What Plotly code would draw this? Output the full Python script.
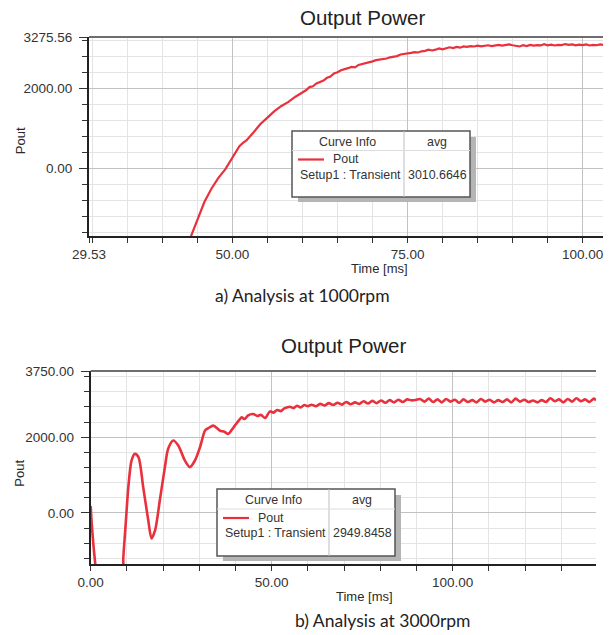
import plotly.graph_objects as go

# ---------------- data ----------------
time_a = [44.0, 45.0, 46.0, 47.0, 48.0, 49.0, 50.0, 51.0, 51.5, 52.0, 53.0, 54.0, 55.0, 56.0, 57.0,
          58.0, 59.0, 60.0, 60.5, 61.0, 61.5, 62.0, 62.5, 63.0, 63.5, 64.0, 64.5, 65.0, 65.5, 66.0,
          66.5, 67.0, 67.5, 68.0, 68.5, 69.0, 69.5, 70.0, 70.5, 71.0, 71.5, 72.0, 72.5, 73.0, 73.5,
          74.0, 74.5, 75.0, 75.5, 76.0, 76.5, 77.0, 77.5, 78.0, 78.5, 79.0, 79.5, 80.0, 80.5, 81.0,
          81.5, 82.0, 82.5, 83.0, 83.5, 84.0, 84.5, 85.0, 85.5, 86.0, 86.5, 87.0, 87.5, 88.0, 88.5,
          89.0, 89.5, 90.0, 90.5, 91.0, 91.5, 92.0, 92.5, 93.0, 93.5, 94.0, 94.5, 95.0, 95.5, 96.0,
          96.5, 97.0, 97.5, 98.0, 98.5, 99.0, 99.5, 100.0, 100.5, 101.0, 101.5, 102.0, 102.5, 103.0]
pout_a = [-1720, -1260, -830, -500, -230, -10, 290, 560, 640, 700, 900, 1110, 1270, 1430, 1560,
          1660, 1790, 1900, 1950, 2030, 2050, 2120, 2150, 2190, 2260, 2290, 2370, 2400, 2450, 2470,
          2500, 2530, 2520, 2580, 2600, 2630, 2650, 2670, 2700, 2710, 2730, 2740, 2770, 2780, 2800,
          2840, 2850, 2870, 2880, 2900, 2890, 2920, 2930, 2960, 2940, 2960, 2990, 2970, 3000, 3020,
          3000, 3030, 3010, 3040, 3030, 3050, 3040, 3060, 3045, 3055, 3070, 3050, 3065, 3080, 3060,
          3075, 3090, 3070, 3060, 3040, 3070, 3050, 3080, 3060, 3075, 3065, 3095, 3070, 3085, 3065,
          3080, 3075, 3100, 3080, 3090, 3070, 3085, 3075, 3090, 3065, 3080, 3070, 3090, 3075]

time_b = [0.0, 0.3, 0.8, 1.3, 1.6, 8.7, 9.0, 9.7, 10.4, 11.3, 12.2, 13.2, 14.5, 15.9, 16.8, 17.8,
          19.1, 20.5, 21.4, 22.8, 24.2, 26.0, 27.4, 28.8, 30.2, 31.6, 32.5, 33.9, 35.0, 35.7, 37.0,
          38.0, 39.0, 40.0, 41.0, 41.7, 42.5, 43.5, 44.9, 46.0, 47.0, 48.2, 49.5, 50.5, 51.5, 52.5,
          53.5, 55.0, 56.0, 57.0, 58.0, 59.0, 60.0,
          61.0, 62.2, 63.4, 64.6, 65.8, 67.0, 68.2, 69.4, 70.6, 71.8, 73.0, 74.2, 75.4, 76.6, 77.8,
          79.0, 80.2, 81.4, 82.6, 83.8, 85.0, 86.2, 87.4, 88.6, 89.8, 91.0, 92.2, 93.4, 94.6, 95.8,
          97.0, 98.2, 99.4, 100.6, 101.8, 103.0, 104.2, 105.4, 106.6, 107.8, 109.0, 110.2, 111.4,
          112.6, 113.8, 115.0, 116.2, 117.4, 118.6, 119.8, 121.0, 122.2, 123.4, 124.6, 125.8, 127.0,
          128.2, 129.4, 130.6, 131.8, 133.0, 134.2, 135.4, 136.6, 137.8, 139.0, 139.6]
pout_b = [180, -300, -900, -1400, -1900, -1900, -1200, -250, 684, 1386, 1562, 1473, 684, -192, -674, -455,
          334, 1210, 1694, 1912, 1780, 1386, 1210, 1386, 1736, 2175, 2240, 2306, 2230, 2175, 2140,
          2088, 2200, 2330, 2450, 2525, 2480, 2580, 2614, 2560, 2590, 2509, 2683, 2650, 2720, 2690,
          2760, 2806, 2770, 2830, 2790, 2850, 2820,
          2860, 2820, 2880, 2840, 2900, 2850, 2910, 2860, 2930, 2870, 2920, 2880, 2950, 2890, 2960,
          2900, 2970, 2910, 2980, 2920, 2990, 2930, 3000, 2975, 2985, 3010, 2940, 3020, 2930, 3000,
          2920, 3010, 2940, 2990, 2910, 3000, 2930, 2980, 2920, 3010, 2940, 2990, 2920, 2980, 2930,
          3000, 2920, 3020, 2940, 2990, 2930, 2970, 2920, 2980, 2930, 3030, 2950, 3000, 2920, 3010,
          2940, 3030, 2950, 3000, 2930, 3020, 2970]

avg_a = "3010.6646"
avg_b = "2949.8458"
title_txt = "Output Power"
caption_a = "a) Analysis at 1000rpm"
caption_b = "b) Analysis at 3000rpm"

# ---------------- layout helpers (pixel -> paper) ----------------
W, H = 615, 635


def px(x):
    return x / W


def py(y):
    return 1 - y / H


RED = "#e8313c"
AX_FONT = dict(family="Liberation Sans, Arial, sans-serif", size=13.5, color="#333333")
MINOR_GRID = "#e4e4e4"
MAJOR_GRID = "#c2c2c2"

fig = go.Figure()
fig.add_trace(go.Scatter(x=time_a, y=pout_a, mode="lines", line=dict(color=RED, width=2.2),
                         xaxis="x", yaxis="y", showlegend=False))
fig.add_trace(go.Scatter(x=time_b, y=pout_b, mode="lines",
                         line=dict(color=RED, width=2.6, shape="spline", smoothing=0.8),
                         xaxis="x2", yaxis="y2", showlegend=False))


def xaxis_cfg(domain, rng, tickvals, ticktext, minor_dtick, anchor):
    return dict(domain=domain, range=rng, anchor=anchor, tickmode="array", tickvals=tickvals,
                ticktext=ticktext, ticks="outside", ticklen=5, tickwidth=1.2, tickcolor="#333",
                showline=True, linecolor="#222", linewidth=2, mirror=False, automargin=False,
                showgrid=True, gridcolor=MAJOR_GRID, gridwidth=1, zeroline=False,
                tickfont=AX_FONT, ticklabelstandoff=0,
                minor=dict(tick0=0, dtick=minor_dtick, ticks="outside", ticklen=5, tickwidth=1.2,
                           tickcolor="#333", showgrid=True, gridcolor=MINOR_GRID, gridwidth=1))


def yaxis_cfg(domain, rng, tickvals, ticktext, anchor):
    return dict(domain=domain, range=rng, anchor=anchor, tickmode="array", tickvals=tickvals,
                ticktext=ticktext, ticks="outside", ticklen=8, tickwidth=1.2, tickcolor="#333",
                showline=True, linecolor="#222", linewidth=2, mirror=False, automargin=False,
                showgrid=True, gridcolor=MAJOR_GRID, gridwidth=1, zeroline=False,
                tickfont=AX_FONT, ticklabelstandoff=4,
                minor=dict(tick0=0, dtick=400, ticks="outside", ticklen=5, tickwidth=1.2,
                           tickcolor="#333", showgrid=True, gridcolor=MINOR_GRID, gridwidth=1))


fig.update_layout(
    width=W, height=H, margin=dict(l=0, r=0, t=0, b=0, autoexpand=False),
    paper_bgcolor="white", plot_bgcolor="white", showlegend=False,
    xaxis=xaxis_cfg([px(89), px(603)], [29.53, 102.9], [29.53, 50, 75, 100],
                    ["29.53", "50.00", "75.00", "100.00"], 5, "y"),
    yaxis=yaxis_cfg([py(236), py(37)], [-1675, 3275.56], [0, 2000, 3275.56],
                    ["0.00", "2000.00", "3275.56"], "x"),
    xaxis2=xaxis_cfg([px(90.7), px(596)], [0, 139.6], [0, 50, 100],
                     ["0.00", "50.00", "100.00"], 10, "y2"),
    yaxis2=yaxis_cfg([py(564), py(371)], [-1350, 3750], [0, 2000, 3750],
                     ["0.00", "2000.00", "3750.00"], "x2"),
)

ann = []


def text(x, y, s, size, family="Liberation Sans, Arial, sans-serif", color="#2a2a2a", angle=0,
         xanchor="center"):
    ann.append(dict(x=px(x), y=py(y), xref="paper", yref="paper", text=s, showarrow=False,
                    xanchor=xanchor, yanchor="middle", textangle=angle,
                    font=dict(family=family, size=size, color=color)))


# titles, axis titles, captions
text(362.5, 17, title_txt, 20.5, color="#222")
text(344, 345, title_txt, 20.5, color="#222")
text(20.7, 140.5, "Pout", 13, angle=-90)
text(18.7, 473, "Pout", 13, angle=-90)
text(379, 268, "Time [ms]", 13)
text(364, 596.5, "Time [ms]", 13)
CAP = "Lato, Carlito, sans-serif"
text(302.5, 295, caption_a, 17.5, family=CAP, color="#222")
text(382.5, 620, caption_b, 17.5, family=CAP, color="#222")

shapes = []

# top border lines of the plot frames (gray)
for (xl, xr, yt) in [(89, 603, 37), (90.7, 596, 371)]:
    shapes.append(dict(type="line", xref="paper", yref="paper", x0=px(xl), x1=px(xr),
                       y0=py(yt), y1=py(yt), line=dict(color="#6e6e6e", width=2), layer="above"))


def legend_box(x0, y0, x1, y1, xdiv, avg, yhead, yrow1, yrow2, line_x0, line_x1, pout_x):
    # shadow
    shapes.append(dict(type="rect", xref="paper", yref="paper", x0=px(x0 + 6), x1=px(x1 + 6),
                       y0=py(y1 + 5), y1=py(y0 + 6), fillcolor="#b5b5b5", line=dict(width=0),
                       layer="above"))
    shapes.append(dict(type="rect", xref="paper", yref="paper", x0=px(x0), x1=px(x1),
                       y0=py(y1), y1=py(y0), fillcolor="white", line=dict(color="#555", width=1.5),
                       layer="above"))
    shapes.append(dict(type="line", xref="paper", yref="paper", x0=px(xdiv), x1=px(xdiv),
                       y0=py(y1), y1=py(y0), line=dict(color="#bdbdbd", width=1), layer="above"))
    shapes.append(dict(type="line", xref="paper", yref="paper", x0=px(x0), x1=px(x1),
                       y0=py(yhead + 9), y1=py(yhead + 9), line=dict(color="#dddddd", width=1),
                       layer="above"))
    shapes.append(dict(type="line", xref="paper", yref="paper", x0=px(line_x0), x1=px(line_x1),
                       y0=py(yrow1), y1=py(yrow1), line=dict(color=RED, width=2.2), layer="above"))
    lf = 12.4
    text((x0 + xdiv) / 2, yhead, "Curve Info", lf, color="#333")
    text((xdiv + x1) / 2, yhead, "avg", lf, color="#333")
    text(pout_x, yrow1, "Pout", lf, color="#333")
    text(line_x0, yrow2, "Setup1 : Transient", lf, color="#333", xanchor="left")
    text((xdiv + x1) / 2, yrow2, avg, lf, color="#333")


legend_box(292, 131, 470, 197, 404, avg_a, 141.5, 159.5, 175, 298, 324, 346)
legend_box(217, 489, 395, 556, 329, avg_b, 500, 518, 533, 223, 249, 271)

fig.update_layout(annotations=ann, shapes=shapes)
fig.write_html("out.html")
